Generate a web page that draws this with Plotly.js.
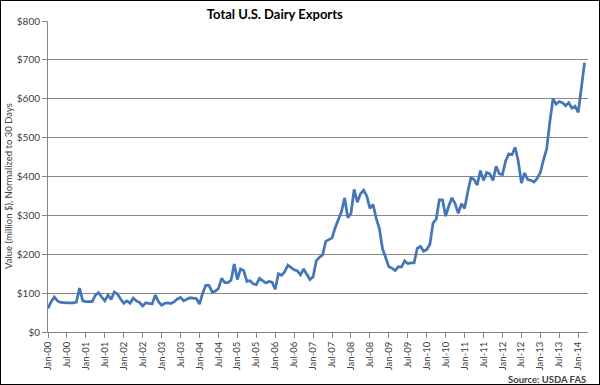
<!DOCTYPE html>
<html><head><meta charset="utf-8">
<script src="https://cdn.plot.ly/plotly-3.0.1.min.js"></script>
<style>
html,body{margin:0;padding:0;background:#fff}
#wrap{position:relative;width:600px;height:385px}
#chart{width:600px;height:385px}
#frame{position:absolute;left:0;top:0;width:598px;height:383px;border:1px solid #000;pointer-events:none}
</style>
</head><body>
<div id="wrap"><div id="chart"></div><div id="frame"></div></div>
<script>
// Monthly export values (million $), Jan-00 .. Mar-14
const y2000 = [61, 78, 90, 80, 76, 75, 75, 75, 75, 77, 113, 80];
const y2001 = [78, 78, 78, 95, 101, 90, 80, 95, 84, 103, 98, 85];
const y2002 = [74, 80, 74, 87, 80, 76, 67, 75, 74, 72, 95, 78];
const y2003 = [69, 74, 75, 73, 78, 85, 89, 80, 84, 88, 87, 86];
const y2004 = [72, 100, 120, 120, 103, 105, 112, 138, 127, 127, 133, 175];
const y2005 = [135, 162, 158, 130, 132, 124, 122, 138, 132, 126, 130, 128];
const y2006 = [110, 150, 146, 155, 172, 166, 160, 157, 147, 162, 148, 135];
const y2007 = [142, 183, 192, 198, 233, 237, 242, 268, 287, 310, 345, 294];
const y2008 = [305, 367, 334, 355, 365, 350, 318, 328, 292, 266, 214, 188];
const y2009 = [168, 164, 158, 168, 167, 183, 176, 178, 178, 215, 220, 208];
const y2010 = [212, 225, 280, 290, 340, 340, 298, 325, 345, 330, 305, 330];
const y2011 = [318, 360, 397, 392, 378, 415, 390, 410, 407, 390, 426, 407];
const y2012 = [405, 440, 458, 456, 475, 440, 383, 409, 392, 390, 386, 395];
const y2013 = [410, 443, 471, 540, 600, 586, 593, 590, 582, 590, 576, 581];
const y2014 = [565, 628, 693];

const monthNames = ["Jan","Feb","Mar","Apr","May","Jun","Jul","Aug","Sep","Oct","Nov","Dec"];
const yearTags = ["00","01","02","03","04","05","06","07","08","09","10","11","12","13","14"];

const tickLabels = ["Jan-00","Jul-00","Jan-01","Jul-01","Jan-02","Jul-02","Jan-03","Jul-03",
  "Jan-04","Jul-04","Jan-05","Jul-05","Jan-06","Jul-06","Jan-07","Jul-07","Jan-08","Jul-08",
  "Jan-09","Jul-09","Jan-10","Jul-10","Jan-11","Jul-11","Jan-12","Jul-12","Jan-13","Jul-13","Jan-14"];

const values = [].concat(y2000, y2001, y2002, y2003, y2004, y2005, y2006, y2007,
  y2008, y2009, y2010, y2011, y2012, y2013, y2014);

const months = [];
for (const yt of yearTags) for (const mn of monthNames) months.push(mn + "-" + yt);
months.length = values.length;

const FONT = "Lato, 'DejaVu Sans', sans-serif";

const trace = {
  x: months, y: values, type: "scatter", mode: "lines",
  line: {color: "#4577b8", width: 2.75},
  hoverinfo: "x+y"
};

const layout = {
  width: 600, height: 385,
  margin: {l: 48, r: 12, t: 21, b: 53},
  paper_bgcolor: "#fff", plot_bgcolor: "#fff",
  showlegend: false,
  font: {family: FONT, color: "#404040", size: 10},
  title: {text: "<b>Total U.S. Dairy Exports</b>", font: {family: FONT, size: 13, color: "#000"},
          xref: "container", x: 0.458, xanchor: "center", yref: "container", y: 0.963, yanchor: "middle"},
  xaxis: {
    type: "category", range: [0, 171.1],
    tickmode: "array", tickvals: tickLabels, ticktext: tickLabels,
    tickangle: -90, tickfont: {family: FONT, size: 9.5, color: "#404040"},
    ticks: "outside", ticklen: 5, tickcolor: "#868686", tickwidth: 1,
    showline: true, linecolor: "#868686", linewidth: 1,
    showgrid: false, zeroline: false, fixedrange: true
  },
  yaxis: {
    range: [0, 800], dtick: 100, tick0: 0, tickprefix: "$",
    tickfont: {family: FONT, size: 10, color: "#404040"},
    ticks: "outside", ticklen: 5, tickcolor: "#868686", tickwidth: 1,
    showline: true, linecolor: "#868686", linewidth: 1,
    showgrid: true, gridcolor: "#8a8a8a", gridwidth: 1,
    zeroline: false, fixedrange: true
  },
  annotations: [
    {text: "Value (million $), Normalized to 30 Days", textangle: -90,
     xref: "paper", yref: "paper", x: -0.072, y: 0.47, xanchor: "center", yanchor: "middle",
     showarrow: false, font: {family: FONT, size: 9.5, color: "#404040"}},
    {text: "<b>Source: USDA FAS</b>", xref: "paper", yref: "paper",
     x: 1.0, y: -0.13, xanchor: "right", yanchor: "top", yshift: 0,
     showarrow: false, font: {family: FONT, size: 9.5, color: "#404040"}}
  ]
};

Plotly.newPlot("chart", [trace], layout, {staticPlot: true, displayModeBar: false});
</script>
</body></html>
